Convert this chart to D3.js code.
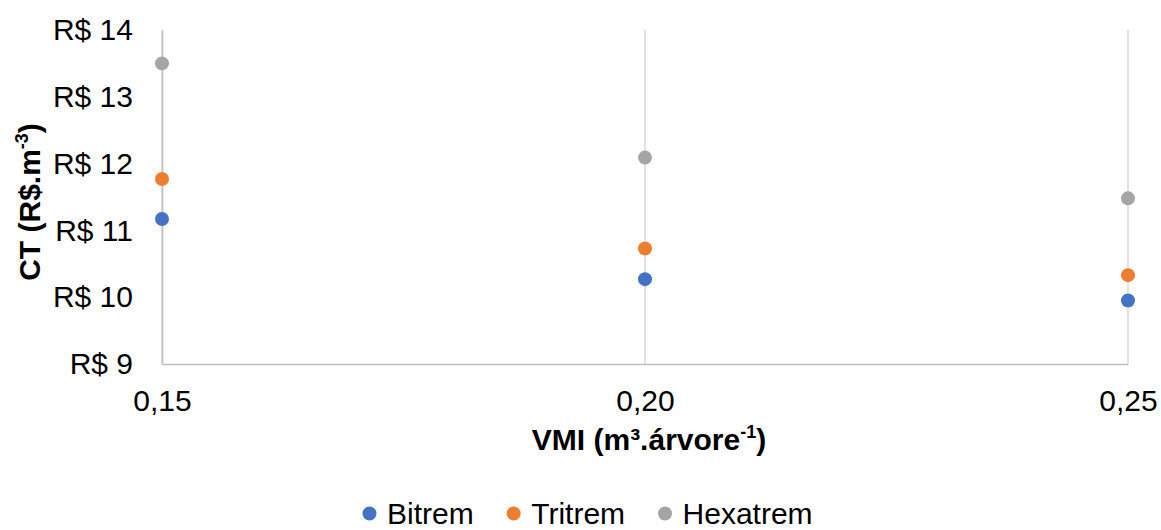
<!DOCTYPE html>
<html>
<head>
<meta charset="utf-8">
<script src="https://cdn.jsdelivr.net/npm/d3@7"></script>
<style>
  html, body { margin: 0; padding: 0; background: #fff; }
  svg { display: block; font-family: "Liberation Sans", Arial, sans-serif; }
</style>
</head>
<body>
<svg id="chart" width="1161" height="530"></svg>
<script>
// VMI classes on the x axis
const vmi = [0.15, 0.20, 0.25];
// Transport cost per m³ for each vehicle configuration
const bitrem   = [11.17, 10.27, 9.95];
const tritrem  = [11.77, 10.73, 10.33];
const hexatrem = [13.50, 12.09, 11.48];
const seriesNames = ["Bitrem", "Tritrem", "Hexatrem"];
const seriesColors = ["#4472C4", "#ED7D31", "#A5A5A5"];
const yTicks = [9, 10, 11, 12, 13, 14];

const series = [bitrem, tritrem, hexatrem].map((vals, i) => ({
  name: seriesNames[i], color: seriesColors[i],
  points: vals.map((v, j) => ({ x: vmi[j], y: v }))
}));

const FONT = "Liberation Sans, Arial, sans-serif";
const FS = 30;

const svg = d3.select("#chart");
const plot = { left: 162, right: 1128, top: 30, bottom: 364 };

const x = d3.scaleLinear().domain([0.15, 0.25]).range([plot.left, plot.right]);
const y = d3.scaleLinear().domain([9, 14]).range([plot.bottom, plot.top]);

// vertical gridlines at each VMI value
svg.append("g").selectAll("line").data(vmi).join("line")
  .attr("x1", d => x(d)).attr("x2", d => x(d))
  .attr("y1", plot.top).attr("y2", plot.bottom)
  .attr("stroke", "#d9d9d9").attr("stroke-width", 1.5);

// y axis (value axis): line on the left, labels only
const yAxis = d3.axisLeft(y).tickValues(yTicks).tickSize(0).tickPadding(29)
  .tickFormat(d => "R$ " + d);
const gy = svg.append("g").attr("transform", `translate(${plot.left},0)`).call(yAxis);
gy.select(".domain").attr("stroke", "#bfbfbf").attr("stroke-width", 1.5);
gy.selectAll("text").attr("font-size", FS).attr("fill", "#000").attr("font-family", FONT);

// x axis
const xAxis = d3.axisBottom(x).tickValues(vmi).tickSize(0).tickPadding(26)
  .tickFormat(d => d3.format(".2f")(d).replace(".", ","));
const gx = svg.append("g").attr("transform", `translate(0,${plot.bottom})`).call(xAxis);
gx.select(".domain").attr("stroke", "#bfbfbf").attr("stroke-width", 1.5);
gx.selectAll("text").attr("font-size", FS).attr("fill", "#000").attr("font-family", FONT);

// markers
series.forEach(s => {
  svg.append("g").selectAll("circle").data(s.points).join("circle")
    .attr("cx", d => x(d.x)).attr("cy", d => y(d.y))
    .attr("r", 7).attr("fill", s.color);
});

// axis titles
const xt = svg.append("text").attr("x", 649).attr("y", 450)
  .attr("text-anchor", "middle").attr("font-size", FS).attr("font-weight", "bold");
xt.append("tspan").text("VMI (m³.árvore");
xt.append("tspan").attr("font-size", 18).attr("dy", -12).text("-1");
xt.append("tspan").attr("dy", 12).text(")");

const yt = svg.append("text")
  .attr("transform", "translate(40,202) rotate(-90)")
  .attr("text-anchor", "middle").attr("font-size", FS).attr("font-weight", "bold");
yt.append("tspan").text("CT (R$.m");
yt.append("tspan").attr("font-size", 18).attr("dy", -12).text("-3");
yt.append("tspan").attr("dy", 12).text(")");

// legend
const legend = svg.append("g").attr("transform", "translate(369.5,513.5)");
let offset = 0;
series.forEach(s => {
  const g = legend.append("g").attr("transform", `translate(${offset},0)`);
  g.append("circle").attr("r", 7).attr("fill", s.color);
  const t = g.append("text").attr("x", 17.5).attr("y", 10)
    .attr("font-size", FS).attr("font-family", FONT).text(s.name);
  offset += 17.5 + t.node().getComputedTextLength() + 40;
});
</script>
</body>
</html>
